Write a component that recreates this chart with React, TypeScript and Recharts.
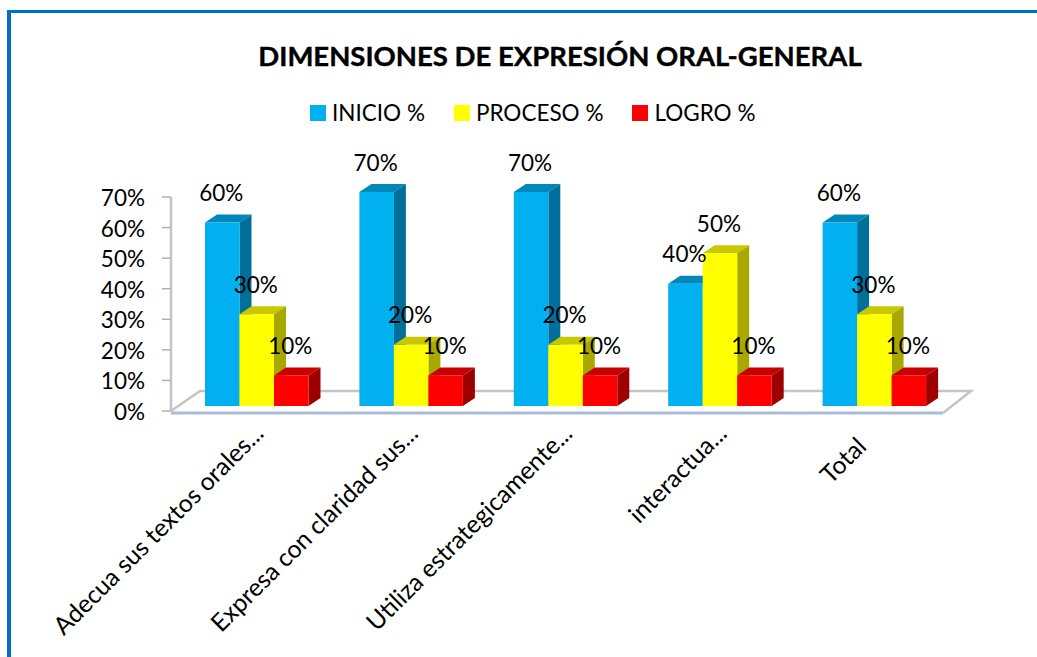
import React from "react";
import { BarChart, Bar, XAxis, YAxis, Legend, LabelList, usePlotArea } from "recharts";

const categories = [
  "Adecua sus textos orales...",
  "Expresa con claridad sus...",
  "Utiliza estrategicamente...",
  "interactua...",
  "Total",
];
const inicio = [60, 70, 70, 40, 60];
const proceso = [30, 20, 20, 50, 30];
const logro = [10, 10, 10, 10, 10];
const yTicks = [0, 10, 20, 30, 40, 50, 60, 70];

const data = categories.map((name, i) => ({
  name,
  inicio: inicio[i],
  proceso: proceso[i],
  logro: logro[i],
}));

const FONT = "Lato, sans-serif";
// the 3d look: front faces sit up and to the right of the axis origin
const SHIFT_X = 9;
const SHIFT_Y = -5;
const DEPTH_X = 12;
const DEPTH_Y = 8;

const box = (topColor: string, sideColor: string) => (props: any) => {
  const { x, y, width, height, fill } = props;
  const l = x + SHIFT_X;
  const r = l + width;
  const t = y + SHIFT_Y;
  const b = t + height;
  return (
    <g>
      <polygon
        points={`${l},${t} ${l + DEPTH_X},${t - DEPTH_Y} ${r + DEPTH_X},${t - DEPTH_Y} ${r},${t}`}
        fill={topColor}
      />
      <polygon
        points={`${r},${t} ${r + DEPTH_X},${t - DEPTH_Y} ${r + DEPTH_X},${b - DEPTH_Y} ${r},${b}`}
        fill={sideColor}
      />
      <rect x={l} y={t} width={width} height={height} fill={fill} />
    </g>
  );
};

const valueLabel = (props: any) => {
  const { x, y, width, value } = props;
  return (
    <text
      x={x + width / 2 + SHIFT_X - 1}
      y={y - 26.5}
      textAnchor="middle"
      fontFamily={FONT}
      fontSize={22.5}
      fill="#000"
    >
      {value}%
    </text>
  );
};

// floor of the 3d box, drawn behind the bars
function Floor() {
  const plot = usePlotArea();
  if (!plot) return null;
  const left = plot.x;
  const right = plot.x + plot.width;
  const bottom = plot.y + plot.height;
  return (
    <g>
      <polyline
        points={`${left},${bottom} ${left + 29},${bottom - 20} ${right + 28},${bottom - 20} ${right},${bottom + 2}`}
        fill="none"
        stroke="#c4c4c4"
        strokeWidth={2.5}
      />
      <line x1={left} y1={bottom + 2} x2={right} y2={bottom + 2} stroke="#a9bcd8" strokeWidth={3} />
    </g>
  );
}

function XTick(props: any) {
  const { x, payload } = props;
  // the short label sits lower and closer to its category
  const isShort = payload.value === "Total";
  const ax = x + (isShort ? 2 : 17);
  const ay = isShort ? 448 : 435;
  return (
    <text
      x={ax}
      y={ay}
      transform={`rotate(-45 ${ax} ${ay})`}
      textAnchor="end"
      fontFamily={FONT}
      fontSize={24.7}
      fill="#000"
    >
      {payload.value}
    </text>
  );
}

function LegendRow(props: any) {
  return (
    <div style={{ display: "flex", fontFamily: FONT, fontSize: 22.5, color: "#000", lineHeight: "26px" }}>
      {props.payload.map((p: any, i: number) => (
        <span key={p.value} style={{ display: "flex", alignItems: "center", marginLeft: i ? 29 : 0 }}>
          <span style={{ width: 16, height: 16, background: p.color, marginRight: 6, display: "inline-block" }} />
          {p.value}
        </span>
      ))}
    </div>
  );
}

export default function App() {
  return (
    <div
      style={{
        position: "absolute",
        left: 0,
        top: 0,
        width: 1037,
        height: 657,
        overflow: "hidden",
        background: "#fff",
      }}
    >
      <div style={{ position: "absolute", left: 7, top: 10, width: 1030, height: 3, background: "#0070c0" }} />
      <div style={{ position: "absolute", left: 7, top: 10, width: 4, height: 647, background: "#0070c0" }} />
      <BarChart
        width={1037}
        height={657}
        data={data}
        barGap={0}
        barSize={34.5}
        margin={{ top: 197, right: 94, bottom: 0, left: 0 }}
      >
        <Floor />
        <text
          x={560}
          y={66}
          textAnchor="middle"
          fontFamily={FONT}
          fontWeight={700}
          fontSize={27.5}
          stroke="#000"
          strokeWidth={0.4}
          fill="#000"
        >
          DIMENSIONES DE EXPRESIÓN ORAL-GENERAL
        </text>
        <XAxis dataKey="name" height={246} axisLine={false} tickLine={false} tick={<XTick />} interval={0} />
        <YAxis
          width={171}
          domain={[0, 70]}
          ticks={yTicks}
          interval={0}
          tickFormatter={(v: number) => `${v}%`}
          tickSize={9}
          tickMargin={17}
          axisLine={{ stroke: "#c4c4c4", strokeWidth: 2.5 }}
          tickLine={{ stroke: "#b0b0b0", strokeWidth: 1.5 }}
          tick={{ fontFamily: FONT, fontSize: 22.5, fill: "#000", dy: 1 }}
        />
        <Legend
          layout="horizontal"
          verticalAlign="middle"
          align="center"
          itemSorter={null}
          content={<LegendRow />}
          wrapperStyle={{ position: "absolute", left: 310, top: 100, width: "auto", height: 26 }}
        />
        <Bar dataKey="inicio" name="INICIO %" fill="#00b0f0" isAnimationActive={false} shape={box("#0088ba", "#006f99")}>
          <LabelList dataKey="inicio" content={valueLabel} />
        </Bar>
        <Bar dataKey="proceso" name="PROCESO %" fill="#ffff00" isAnimationActive={false} shape={box("#c8c800", "#a8a800")}>
          <LabelList dataKey="proceso" content={valueLabel} />
        </Bar>
        <Bar dataKey="logro" name="LOGRO %" fill="#ff0000" isAnimationActive={false} shape={box("#c80000", "#9c0000")}>
          <LabelList dataKey="logro" content={valueLabel} />
        </Bar>
      </BarChart>
    </div>
  );
}
